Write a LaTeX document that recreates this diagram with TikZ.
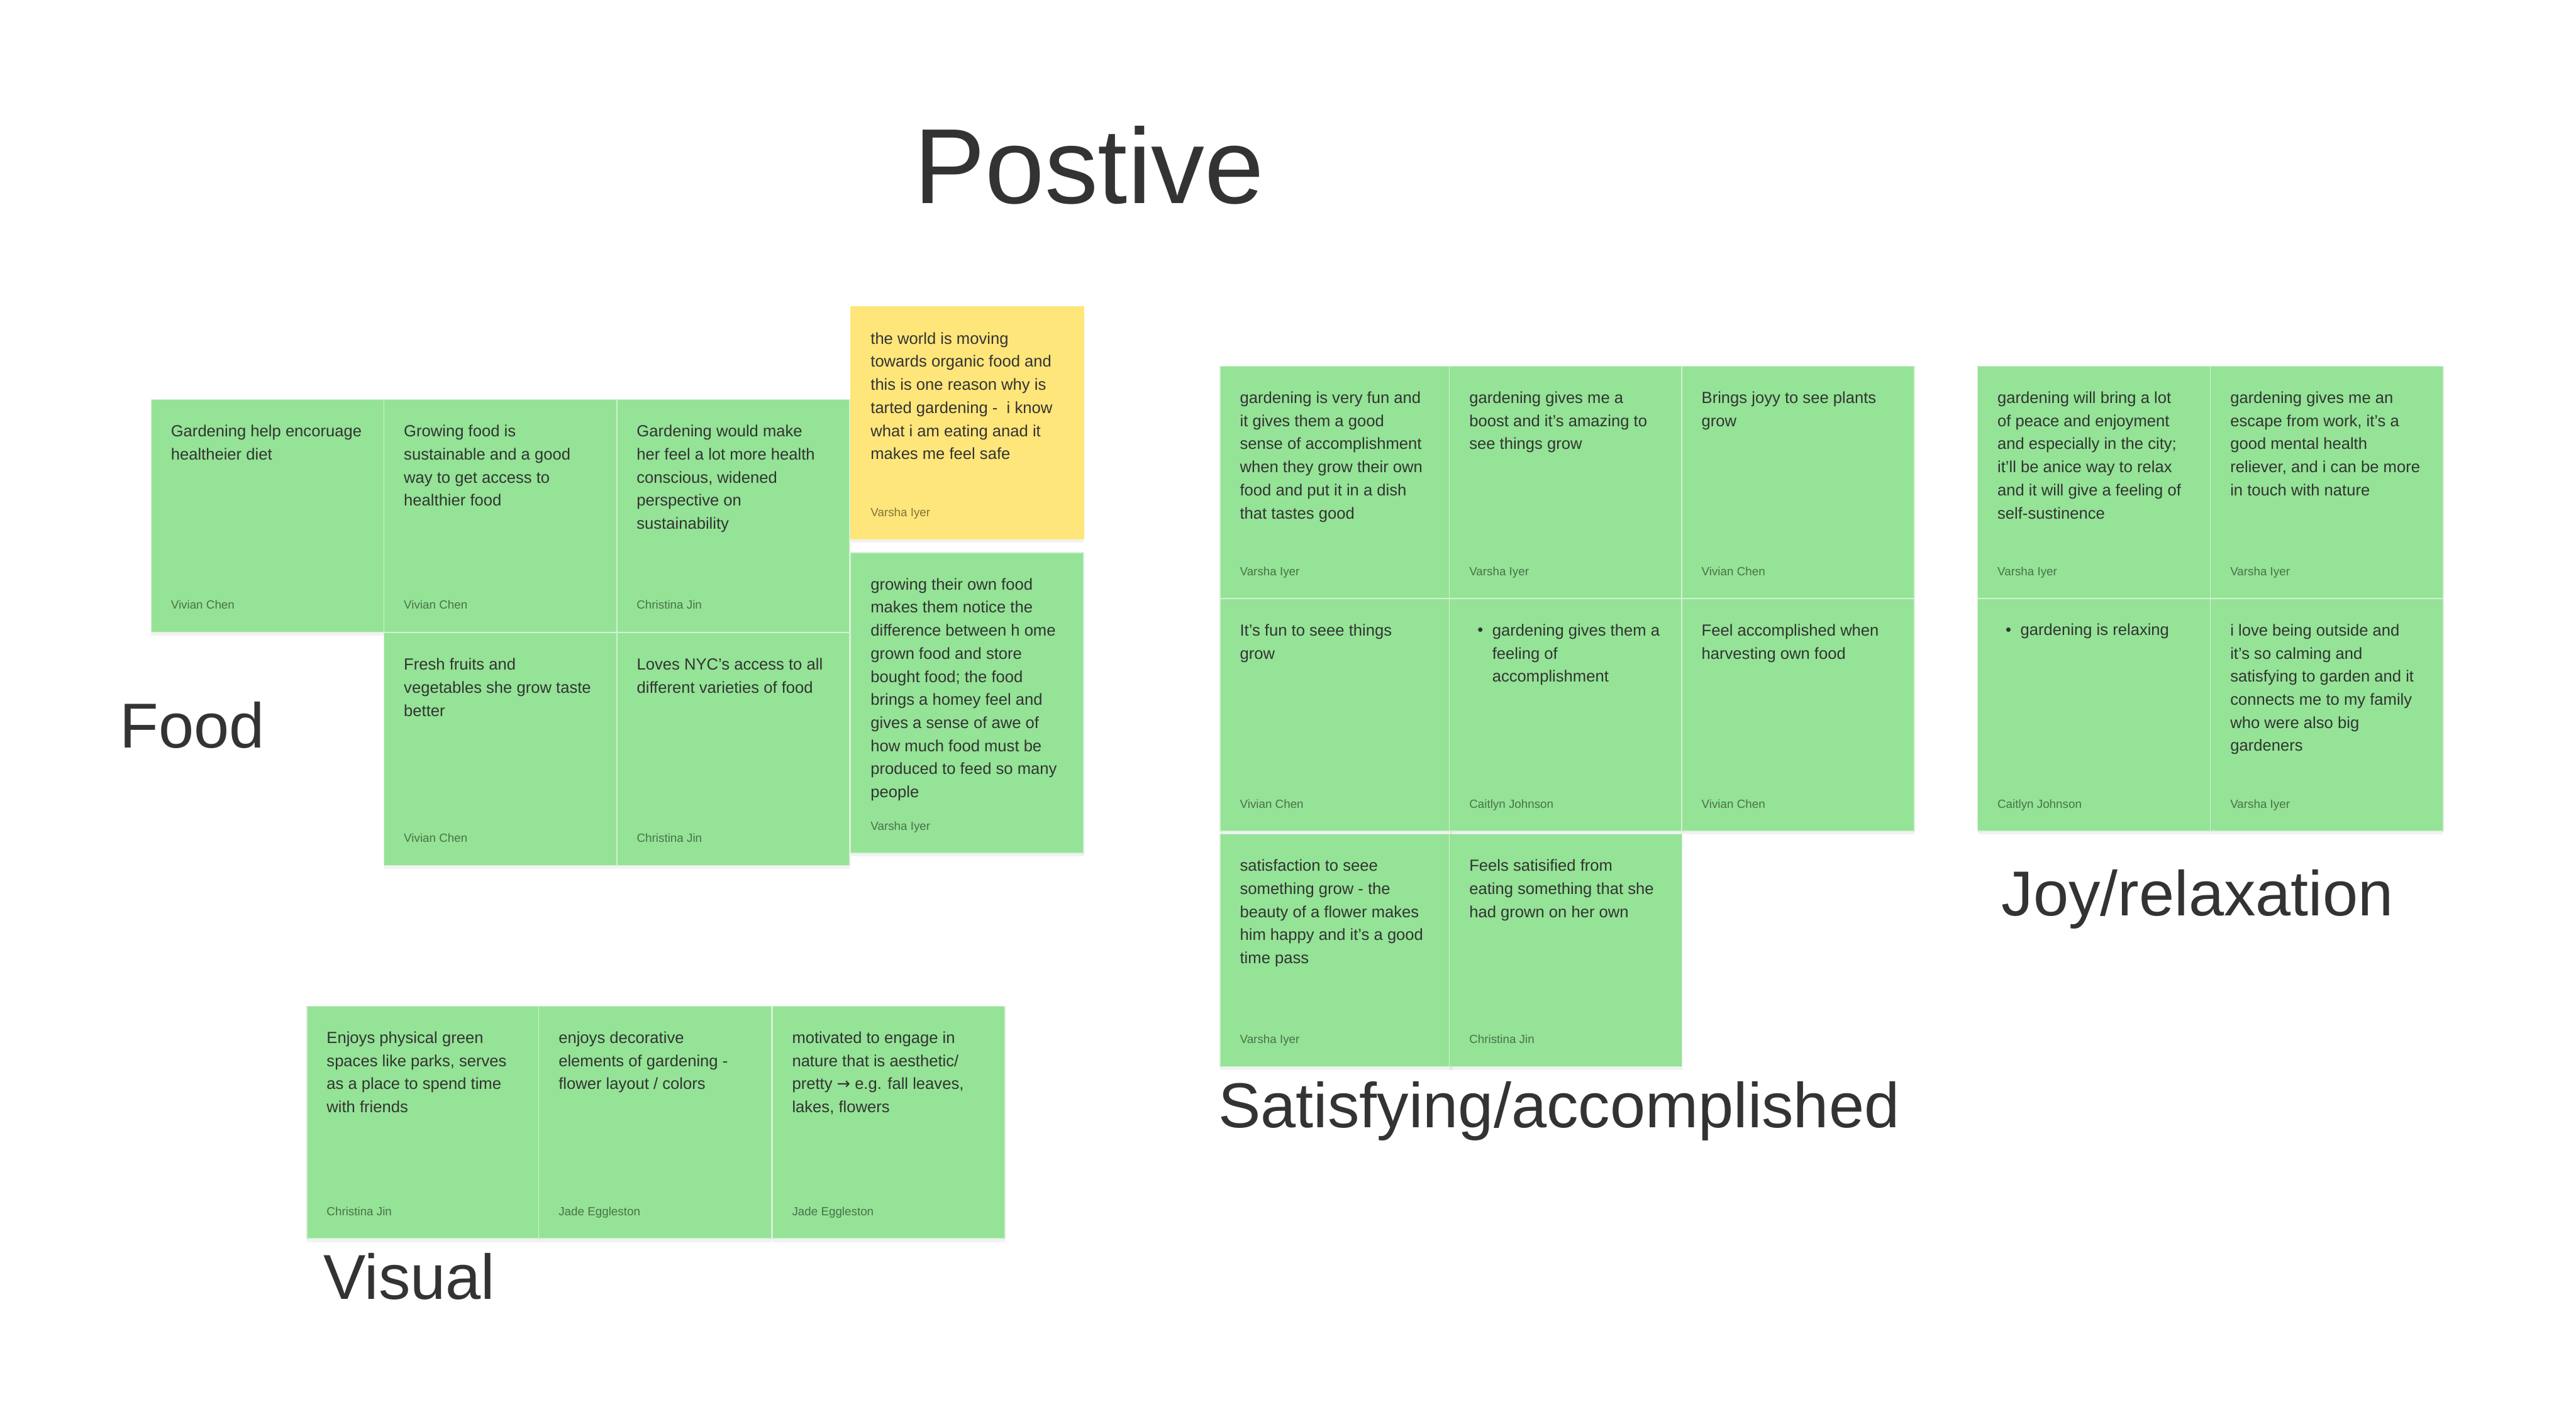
\documentclass[tikz,border=0pt]{standalone}
\usepackage{fontspec}
\setmainfont{Liberation Sans}
\newfontfamily\arrowfont{DejaVu Sans}
\usetikzlibrary{shadows}
\definecolor{stickygreen}{RGB}{148,227,150}
\definecolor{stickyyellow}{RGB}{255,230,122}
\definecolor{ink}{RGB}{51,51,51}
\definecolor{seam}{RGB}{214,240,214}
\begin{document}
\begin{tikzpicture}[x=0.02cm, y=-0.02cm, every node/.style={text=ink},
	note/.style={anchor=north west, fill=stickygreen, draw=seam, line width=0.3pt, minimum width=2.834cm, minimum height=2.832cm, inner sep=0pt, drop shadow={opacity=0.1, shadow xshift=0pt, shadow yshift=-1.2pt}},
	txt/.style={anchor=north west, inner sep=0pt, align=left, font=\fontsize{5.58}{8}\selectfont, execute at begin node=\strut},
	who/.style={anchor=base west, inner sep=0pt, font=\fontsize{4.1}{5}\selectfont, text=black, text opacity=0.5},
	lbl/.style={anchor=base west, inner sep=0pt, font=\fontsize{22}{26}\selectfont}]
	\path[use as bounding box, fill=white] (0,0) rectangle (1568,867);
	% food
	\node[note] (fd1) at (91.7,243) {}; \node[txt] (fd1t) at ([shift={(12,15.5)}]fd1.north west) {Gardening help encoruage\\healtheier diet}; \node[who] (fd1a) at ([shift={(12,-14.2)}]fd1.south west) {Vivian Chen};
	\node[note] (fd2) at (233.5,243) {}; \node[txt] (fd2t) at ([shift={(12,15.5)}]fd2.north west) {Growing food is\\sustainable and a good\\way to get access to\\healthier food}; \node[who] (fd2a) at ([shift={(12,-14.2)}]fd2.south west) {Vivian Chen};
	\node[note] (fd3) at (375.2,243) {}; \node[txt] (fd3t) at ([shift={(12,15.5)}]fd3.north west) {Gardening would make\\her feel a lot more health\\conscious, widened\\perspective on\\sustainability}; \node[who] (fd3a) at ([shift={(12,-14.2)}]fd3.south west) {Christina Jin};
	\node[note, fill=stickyyellow, draw=stickyyellow] (fd4) at (517.6,186.5) {}; \node[txt] (fd4t) at ([shift={(12,15.5)}]fd4.north west) {the world is moving\\towards organic food and\\this is one reason why is\\tarted gardening -\ \ i know\\what i am eating anad it\\makes me feel safe}; \node[who] (fd4a) at ([shift={(12,-14.2)}]fd4.south west) {Varsha Iyer};
	\node[note, minimum height=3.66cm] (fd5) at (517.6,336.2) {}; \node[txt] (fd5t) at ([shift={(12,15.5)}]fd5.north west) {growing their own food\\makes them notice the\\difference between h ome\\grown food and store\\bought food; the food\\brings a homey feel and\\gives a sense of awe of\\how much food must be\\produced to feed so many\\people}; \node[who] (fd5a) at ([shift={(12,-14.2)}]fd5.south west) {Varsha Iyer};
	\node[note] (fd6) at (233.5,385) {}; \node[txt] (fd6t) at ([shift={(12,15.5)}]fd6.north west) {Fresh fruits and\\vegetables she grow taste\\better}; \node[who] (fd6a) at ([shift={(12,-14.2)}]fd6.south west) {Vivian Chen};
	\node[note] (fd7) at (375.3,385) {}; \node[txt] (fd7t) at ([shift={(12,15.5)}]fd7.north west) {Loves NYC’s access to all\\different varieties of food}; \node[who] (fd7a) at ([shift={(12,-14.2)}]fd7.south west) {Christina Jin};
	% visual
	\node[note] (vs1) at (186.5,612.3) {}; \node[txt] (vs1t) at ([shift={(12,15.5)}]vs1.north west) {Enjoys physical green\\spaces like parks, serves\\as a place to spend time\\with friends}; \node[who] (vs1a) at ([shift={(12,-14.2)}]vs1.south west) {Christina Jin};
	\node[note] (vs2) at (327.7,612.3) {}; \node[txt] (vs2t) at ([shift={(12,15.5)}]vs2.north west) {enjoys decorative\\elements of gardening -\\flower layout / colors}; \node[who] (vs2a) at ([shift={(12,-14.2)}]vs2.south west) {Jade Eggleston};
	\node[note] (vs3) at (469.8,612.3) {}; \node[txt] (vs3t) at ([shift={(12,15.5)}]vs3.north west) {motivated to engage in\\nature that is aesthetic/\\pretty {\arrowfont →} e.g. fall leaves,\\lakes, flowers}; \node[who] (vs3a) at ([shift={(12,-14.2)}]vs3.south west) {Jade Eggleston};
	% satisfying
	\node[note] (st1) at (742.4,222.6) {}; \node[txt] (st1t) at ([shift={(12,15.5)}]st1.north west) {gardening is very fun and\\it gives them a good\\sense of accomplishment\\when they grow their own\\food and put it in a dish\\that tastes good}; \node[who] (st1a) at ([shift={(12,-14.2)}]st1.south west) {Varsha Iyer};
	\node[note] (st2) at (882,222.6) {}; \node[txt] (st2t) at ([shift={(12,15.5)}]st2.north west) {gardening gives me a\\boost and it’s amazing to\\see things grow}; \node[who] (st2a) at ([shift={(12,-14.2)}]st2.south west) {Varsha Iyer};
	\node[note] (st3) at (1023.4,222.6) {}; \node[txt] (st3t) at ([shift={(12,15.5)}]st3.north west) {Brings joyy to see plants\\grow}; \node[who] (st3a) at ([shift={(12,-14.2)}]st3.south west) {Vivian Chen};
	\node[note] (st4) at (742.4,364.2) {}; \node[txt] (st4t) at ([shift={(12,15.5)}]st4.north west) {It’s fun to seee things\\grow}; \node[who] (st4a) at ([shift={(12,-14.2)}]st4.south west) {Vivian Chen};
	\node[note] (st5) at (882,364.2) {}; \node[txt] (st5b) at ([shift={(17,12.5)}]st5.north west) {•}; \node[txt] (st5t) at ([shift={(26,15.5)}]st5.north west) {gardening gives them a\\feeling of\\accomplishment}; \node[who] (st5a) at ([shift={(12,-14.2)}]st5.south west) {Caitlyn Johnson};
	\node[note] (st6) at (1023.4,364.2) {}; \node[txt] (st6t) at ([shift={(12,15.5)}]st6.north west) {Feel accomplished when\\harvesting own food}; \node[who] (st6a) at ([shift={(12,-14.2)}]st6.south west) {Vivian Chen};
	\node[note] (st7) at (742.4,507.5) {}; \node[txt] (st7t) at ([shift={(12,15.5)}]st7.north west) {satisfaction to seee\\something grow - the\\beauty of a flower makes\\him happy and it’s a good\\time pass}; \node[who] (st7a) at ([shift={(12,-14.2)}]st7.south west) {Varsha Iyer};
	\node[note] (st8) at (882,507.5) {}; \node[txt] (st8t) at ([shift={(12,15.5)}]st8.north west) {Feels satisified from\\eating something that she\\had grown on her own}; \node[who] (st8a) at ([shift={(12,-14.2)}]st8.south west) {Christina Jin};
	% joy
	\node[note] (jy1) at (1203.5,222.6) {}; \node[txt] (jy1t) at ([shift={(12,15.5)}]jy1.north west) {gardening will bring a lot\\of peace and enjoyment\\and especially in the city;\\it’ll be anice way to relax\\and it will give a feeling of\\self-sustinence}; \node[who] (jy1a) at ([shift={(12,-14.2)}]jy1.south west) {Varsha Iyer};
	\node[note] (jy2) at (1345.2,222.6) {}; \node[txt] (jy2t) at ([shift={(12,15.5)}]jy2.north west) {gardening gives me an\\escape from work, it’s a\\good mental health\\reliever, and i can be more\\in touch with nature}; \node[who] (jy2a) at ([shift={(12,-14.2)}]jy2.south west) {Varsha Iyer};
	\node[note] (jy3) at (1203.5,364.2) {}; \node[txt] (jy3b) at ([shift={(17,12.5)}]jy3.north west) {•}; \node[txt] (jy3t) at ([shift={(26,12.5)}]jy3.north west) {gardening is relaxing}; \node[who] (jy3a) at ([shift={(12,-14.2)}]jy3.south west) {Caitlyn Johnson};
	\node[note] (jy4) at (1345.2,364.2) {}; \node[txt] (jy4t) at ([shift={(12,15.5)}]jy4.north west) {i love being outside and\\it’s so calming and\\satisfying to garden and it\\connects me to my family\\who were also big\\gardeners}; \node[who] (jy4a) at ([shift={(12,-14.2)}]jy4.south west) {Varsha Iyer};
	% headings
	\node[lbl, font=\fontsize{37}{44}\selectfont] (title) at (556,124) {Postive};
	\node[lbl] (food) at (72.6,455.3) {Food};
	\node[lbl] (visual) at (196.5,791) {Visual};
	\node[lbl] (satisfy) at (741.3,686.5) {Satisfying/accomplished};
	\node[lbl] (joy) at (1218,557.5) {Joy/relaxation};
\end{tikzpicture}
\end{document}
